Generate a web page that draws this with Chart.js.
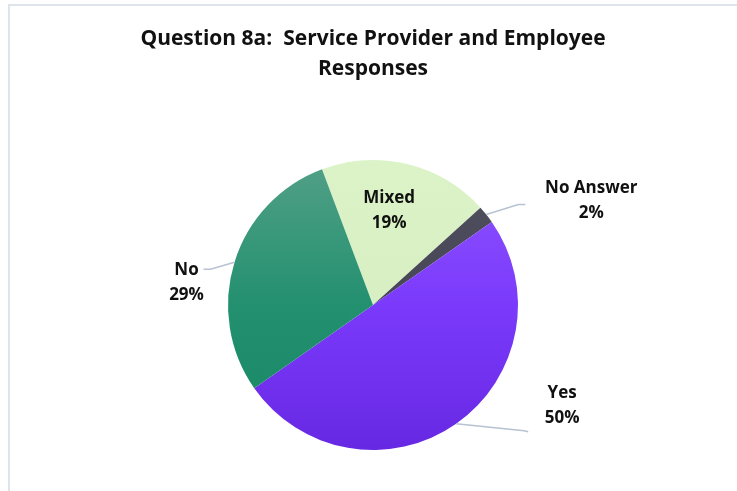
<!DOCTYPE html>
<html>
<head>
<meta charset="utf-8">
<script src="https://cdn.jsdelivr.net/npm/chart.js@4"></script>
<style>
  html, body { margin: 0; padding: 0; background: #fff; }
  #wrap { position: relative; width: 737px; height: 491px; }
  #frame { position: absolute; left: 8px; top: 4px; right: -4px; bottom: -4px;
           border-top: 2px solid #dfe4ea; border-left: 2px solid #dfe4ea; }
  canvas { position: absolute; left: 0; top: 0; }
</style>
</head>
<body>
<div id="wrap">
  <div id="frame"></div>
  <canvas id="responses-chart" width="737" height="491"></canvas>
</div>
<script>
const categories = ['Mixed', 'No Answer', 'Yes', 'No'];
const responses = [19, 2, 50, 29];
const percentLabels = ['19%', '2%', '50%', '29%'];

// colour stops (top, middle, bottom) for each slice's vertical gradient
const sliceColours = [
    ['#dcf3c8', '#d8efc3', '#cde5b7'],
    ['#50505f', '#464656', '#3e3e4e'],
    ['#8f54ff', '#7b3afb', '#6728e3'],
    ['#52a087', '#23906f', '#178866']
];

// where each label sits relative to the slice's outer edge point, plus leader line
const labelLayout = [
    { inside: 0.68, shift: [-7, 1.5] },
    { elbow: [32, -10], end: [39, -10], text: [105, -14] },
    { elbow: [68, 7], end: [72, 8], text: [106, -18] },
    { elbow: [-24, 7], end: [-31, 7], text: [-48, 20] }
];

const fontFamily = '"Open Sans", Lato, "Liberation Sans", sans-serif';
const labelFont = 'bold 17px ' + fontFamily;

const sliceLabels = {
    id: 'sliceLabels',
    afterDatasetsDraw(chart) {
        const ctx = chart.ctx;
        const arcs = chart.getDatasetMeta(0).data;
        ctx.save();
        ctx.font = labelFont;
        ctx.textAlign = 'center';
        ctx.textBaseline = 'middle';
        arcs.forEach((arc, i) => {
            const mid = (arc.startAngle + arc.endAngle) / 2;
            const r = arc.outerRadius;
            const layout = labelLayout[i];
            let cx, cy;
            if (layout.inside) {
                cx = arc.x + Math.cos(mid) * r * layout.inside + layout.shift[0];
                cy = arc.y + Math.sin(mid) * r * layout.inside + layout.shift[1];
            } else {
                const ex = arc.x + Math.cos(mid) * r;
                const ey = arc.y + Math.sin(mid) * r;
                ctx.strokeStyle = '#b7c2d2';
                ctx.lineWidth = 1.5;
                ctx.beginPath();
                ctx.moveTo(ex, ey);
                ctx.lineTo(ex + layout.elbow[0], ey + layout.elbow[1]);
                ctx.lineTo(ex + layout.end[0], ey + layout.end[1]);
                ctx.stroke();
                cx = ex + layout.text[0];
                cy = ey + layout.text[1];
            }
            ctx.fillStyle = '#111';
            ctx.fillText(categories[i], cx, cy - 12.5);
            ctx.fillText(percentLabels[i], cx, cy + 12.5);
        });
        ctx.restore();
    }
};

new Chart(document.getElementById('responses-chart'), {
    type: 'pie',
    data: {
        labels: categories,
        datasets: [{
            data: responses,
            borderWidth: 0,
            backgroundColor(context) {
                const area = context.chart.chartArea;
                const stops = sliceColours[context.dataIndex];
                if (!area) return stops[0];
                const g = context.chart.ctx.createLinearGradient(0, area.top, 0, area.bottom);
                g.addColorStop(0, stops[0]);
                g.addColorStop(0.5, stops[1]);
                g.addColorStop(1, stops[2]);
                return g;
            }
        }]
    },
    options: {
        responsive: false,
        animation: false,
        rotation: -20.6,
        layout: { padding: { left: 100, right: 91, top: 23, bottom: 41 } },
        plugins: {
            legend: { display: false },
            tooltip: { enabled: false },
            title: {
                display: true,
                text: ['Question 8a:  Service Provider and Employee', 'Responses'],
                color: '#111',
                font: { family: fontFamily, size: 21, weight: 'bold', lineHeight: 1.43 },
                padding: { top: 1, bottom: 76 }
            }
        }
    },
    plugins: [sliceLabels]
});
</script>
</body>
</html>
